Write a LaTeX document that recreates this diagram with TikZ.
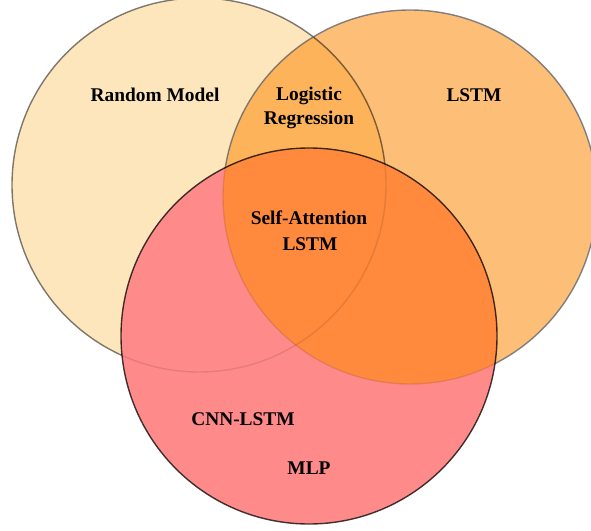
\documentclass[tikz,border=0pt]{standalone}
\usepackage{fontspec}
\setmainfont{Liberation Serif}
\begin{document}
\begin{tikzpicture}[x=1bp,y=-1bp,
  lbl/.style={anchor=base,inner sep=0pt,font=\fontsize{19.4bp}{23bp}\selectfont\bfseries},
  edge/.style={line width=1.4bp}]
\useasboundingbox (0,0) rectangle (591,531);
\definecolor{lcol}{HTML}{FEE6BC}
\definecolor{rcol}{HTML}{FDBF78}
\definecolor{lrcol}{HTML}{FDB35A}
\definecolor{bcol}{HTML}{FF8A8A}
\definecolor{rbcol}{HTML}{FF8A3D}
\definecolor{rstroke}{HTML}{505866}
\coordinate (cL) at (199,185);
\coordinate (cR) at (410,197);
\coordinate (cB) at (309,336);
% base fills
\fill[lcol] (cL) circle[radius=187];
\fill[rcol] (cR) circle[radius=187];
\begin{scope}
  \clip (cL) circle[radius=187];
  \fill[lrcol] (cR) circle[radius=187];
\end{scope}
\draw[edge,black,opacity=0.5] (cL) circle[radius=187];
\draw[edge,rstroke,opacity=0.7] (cR) circle[radius=187];
% bottom circle
\fill[bcol] (cB) circle[radius=188];
\begin{scope}
  \clip (cR) circle[radius=187];
  \fill[rbcol] (cB) circle[radius=188];
\end{scope}
\begin{scope}
  \clip (cB) circle[radius=188];
  \draw[edge,black,opacity=0.1] (cL) circle[radius=187];
  \draw[edge,black,opacity=0.1] (cR) circle[radius=187];
\end{scope}
\draw[edge,black,opacity=0.75] (cB) circle[radius=188];
% labels
\node[lbl] (rm) at (155,102) {Random Model};
\node[lbl] (lg1) at (309,101) {Logistic};
\node[lbl] (lg2) at (309,125) {Regression};
\node[lbl] (ls) at (474,102) {LSTM};
\node[lbl] (sa1) at (309,225) {Self-Attention};
\node[lbl] (sa2) at (310,250) {LSTM};
\node[lbl] (cnn) at (243,425) {CNN-LSTM};
\node[lbl] (mlp) at (309,474) {MLP};
\end{tikzpicture}
\end{document}
